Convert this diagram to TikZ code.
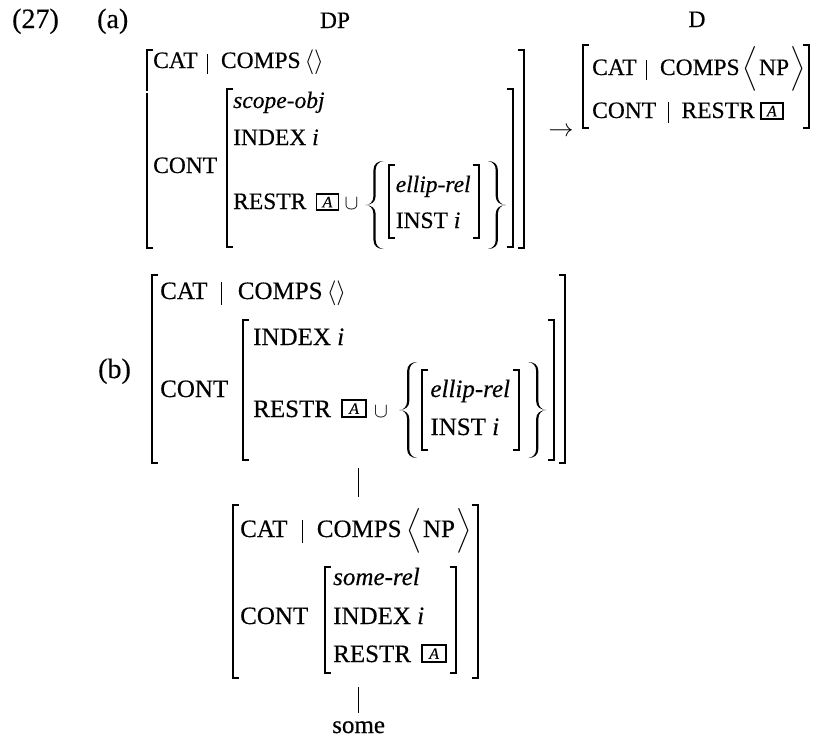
\documentclass[tikz,border=0pt]{standalone}
\usepackage{exscale}
\usepackage{fontspec}
\setmainfont{Liberation Serif}[FakeBold=0.35]
\usetikzlibrary{calc,fit}
\newcommand{\fa}{\fontsize{23.5}{28}\selectfont}
\newcommand{\fb}{\fontsize{25}{30}\selectfont}
\newcommand{\fl}{\fontsize{28}{33}\selectfont}
\newcommand{\fcup}{\fontsize{20}{22}\selectfont}
\newcommand{\lbr}[2]{\draw[brk] (#1) ++(6,0) -- (#1) -- (#2) -- ++(6,0);}
\newcommand{\rbr}[2]{\draw[brk] (#1) ++(-6,0) -- (#1) -- (#2) -- ++(-6,0);}
\newcommand{\LAng}[1]{$\left\langle\vcenter{\hbox{\rule{0pt}{#1}}}\right.$}
\newcommand{\RAng}[1]{$\left.\vcenter{\hbox{\rule{0pt}{#1}}}\right\rangle$}
\tikzset{
 pics/brc/.style={code={\fill
   (9,-#1) .. controls (3,-#1) and (-1.1,-#1+3) .. (-1.1,-#1+9)
   -- (-1.1,-9) .. controls (-1.1,-3) and (-5,0) .. (-9,0)
   .. controls (-5,0) and (-1.1,3) .. (-1.1,9)
   -- (-1.1,#1-9) .. controls (-1.1,#1-3) and (3,#1) .. (9,#1)
   .. controls (4,#1-0.6) and (1.1,#1-4) .. (1.1,#1-9)
   -- (1.1,9) .. controls (1.1,3) and (-3,0.4) .. (-9,0)
   .. controls (-3,-0.4) and (1.1,-3) .. (1.1,-9)
   -- (1.1,-#1+9) .. controls (1.1,-#1+4) and (4,-#1+0.6) .. (9,-#1) -- cycle;}}
}
\begin{document}
\begin{tikzpicture}[x=1pt,y=-1pt,
  tx/.style={inner sep=0pt,anchor=base west},
  ctr/.style={inner sep=0pt,anchor=base},
  brk/.style={line width=2pt},
  barline/.style={line width=0.8pt},
  tagbox/.style={draw,line width=1.8pt,inner sep=0pt,minimum width=22pt,minimum height=16pt,font=\fontsize{16}{17}\selectfont\itshape},
  treeline/.style={line width=0.8pt}]
\useasboundingbox (0,0) rectangle (813,740);
% labels
\node[tx,font=\fl] (n27) at (12,28) {(27)};
\node[tx,font=\fl] (na) at (97,28) {(a)};
\node[tx,font=\fl] (nb) at (98,378) {(b)};
\node[ctr,font=\fa] (dp) at (335,28) {DP};
\node[ctr,font=\fa] (dd) at (697,27) {D};
% ---------------- (a) DP
\begin{scope}[every node/.append style={font=\fa}]
\node[tx] (acat) at (153,68) {CAT};
\coordinate (abar) at ($(acat.base east)+(10,0)$);
\draw[barline] ($(abar)+(0,-14)$) -- ++(0,20);
\node[tx] (acomps) at ($(abar)+(13,0)$) {COMPS\,$\langle\rangle$};
\node[tx] (acont) at (153,173) {CONT};
\node[tx] (ascope) at (233,108) {\itshape scope-obj};
\node[tx] (aindex) at (233,145) {INDEX \textit{i}};
\node[tx] (arestr) at (233,209) {RESTR};
\node[tagbox,anchor=south west] (aA) at ($(arestr.base east)+(9,2)$) {A};
\node[tx,font=\fcup] (acup) at ($(aA.east |- arestr.base)+(5,0)$) {$\cup$};
\coordinate (alb) at ($(acup.east |- 0,205)+(16,0)$);
\pic at (alb) {brc=44};
\node[tx] (aell) at ($(alb |- 0,192)+(21,0)$) {\itshape ellip-rel};
\node[tx] (ainst) at (aell.west |- 0,228) {INST \textit{i}};
\lbr{$(alb |- 0,165)+(14,0)$}{$(alb |- 0,238)+(14,0)$}
\coordinate (arb0) at ($(aell.east |- 0,165)+(8,0)$);
\rbr{arb0}{arb0 |- 0,238}
\coordinate (arb) at ($(arb0 |- 0,205)+(18,0)$);
\pic[xscale=-1] at (arb) {brc=44};
\lbr{227,89}{227,247}
\rbr{$(arb |- 0,89)+(16,0)$}{$(arb |- 0,247)+(16,0)$}
\draw[brk] (153,50) -- (147,50) -- (147,90.5);
\draw[brk] (147,92.5) -- (147,248) -- (153,248);
\rbr{$(arb |- 0,50)+(27,0)$}{$(arb |- 0,248)+(27,0)$}
\end{scope}
\node[inner sep=0pt,font=\fa] (arr) at (561,132) {$\rightarrow$};
% ---------------- (a) D
\begin{scope}[every node/.append style={font=\fa}]
\node[tx] (dcat) at (592,75) {CAT};
\coordinate (dbar1) at ($(dcat.base east)+(10,0)$);
\draw[barline] ($(dbar1)+(0,-15)$) -- ++(0,20);
\node[tx] (dcomps) at ($(dbar1)+(13,0)$) {COMPS\hspace{3pt}\LAng{36pt}NP\RAng{36pt}};
\node[tx] (dcont) at (592,118) {CONT};
\coordinate (dbar2) at ($(dcont.base east)+(12,0)$);
\draw[barline] ($(dbar2)+(0,-16)$) -- ++(0,21);
\node[tx] (drestr) at ($(dbar2)+(13,0)$) {RESTR};
\node[tagbox,anchor=south west] (dA) at ($(drestr.base east)+(5,2)$) {A};
\lbr{583,45}{583,128}
\rbr{$(dcomps.east |- 0,45)+(3,0)$}{$(dcomps.east |- 0,128)+(3,0)$}
\end{scope}
% ---------------- (b)
\begin{scope}[every node/.append style={font=\fb}]
\node[tx] (bcat) at (160,299) {CAT};
\coordinate (bbar) at ($(bcat.base east)+(14,0)$);
\draw[barline] ($(bbar)+(0,-17)$) -- ++(0,23);
\node[tx] (bcomps) at ($(bbar)+(16,0)$) {COMPS\,$\langle\rangle$};
\node[tx] (bcont) at (160,397) {CONT};
\node[tx] (bindex) at (253,345) {INDEX \textit{i}};
\node[tx] (brestr) at (253,417) {RESTR};
\node[tagbox,anchor=south west,minimum width=24pt,minimum height=17pt] (bA) at ($(brestr.base east)+(10,1)$) {A};
\node[tx,font=\fcup] (bcup) at ($(bA.east |- brestr.base)+(7,0)$) {$\cup$};
\coordinate (blb) at ($(bcup.east |- 0,410)+(20,0)$);
\pic at (blb) {brc=48};
\node[tx] (bell) at ($(blb |- 0,397)+(22,0)$) {\itshape ellip-rel};
\node[tx] (binst) at (bell.west |- 0,435) {INST \textit{i}};
\lbr{$(blb |- 0,370)+(14,0)$}{$(blb |- 0,450)+(14,0)$}
\coordinate (brb0) at ($(bell.east |- 0,370)+(9,0)$);
\rbr{brb0}{brb0 |- 0,450}
\coordinate (brb) at ($(brb0 |- 0,410)+(18,0)$);
\pic[xscale=-1] at (brb) {brc=48};
\lbr{243,320}{243,460}
\rbr{$(brb |- 0,320)+(17,0)$}{$(brb |- 0,460)+(17,0)$}
\coordinate (bTL) at (152,275);
\coordinate (bBR) at ($(brb |- 0,463)+(28,0)$);
\lbr{bTL}{152,463}
\rbr{$(brb |- 0,275)+(28,0)$}{bBR}
\node[fit={(bTL) (bBR)},inner sep=0pt] (bavm) {};
\end{scope}
% ---------------- (c)
\begin{scope}[every node/.append style={font=\fb}]
\node[tx] (ccat) at (240,537) {CAT};
\coordinate (cbar) at ($(ccat.base east)+(15,0)$);
\draw[barline] ($(cbar)+(0,-17)$) -- ++(0,23);
\node[tx] (ccomps) at ($(cbar)+(14,0)$) {COMPS\hspace{5pt}\LAng{38pt}NP\RAng{38pt}};
\node[tx] (ccont) at (240,624) {CONT};
\node[tx] (csome) at (333,585) {\itshape some-rel};
\node[tx] (cindex) at (333,624) {INDEX \textit{i}};
\node[tx] (crestr) at (333,662) {RESTR};
\node[tagbox,anchor=south west,minimum width=24pt,minimum height=17pt] (cA) at ($(crestr.base east)+(10,1)$) {A};
\lbr{325,567}{325,673}
\rbr{$(cA.east |- 0,567)+(9,0)$}{$(cA.east |- 0,673)+(9,0)$}
\coordinate (cTL) at (233,505);
\coordinate (cBR) at ($(ccomps.east |- 0,678)+(6,0)$);
\lbr{cTL}{233,678}
\rbr{$(ccomps.east |- 0,505)+(6,0)$}{cBR}
\node[fit={(cTL) (cBR)},inner sep=0pt] (cavm) {};
\node[ctr] (some) at (bavm.south |- 0,733) {some};
\end{scope}
\draw[treeline,shorten <=5pt,shorten >=8pt] (bavm.south) -- (bavm.south |- cavm.north);
\draw[treeline,shorten <=9pt,shorten >=8pt] (bavm.south |- cavm.south) -- (some.north);
\end{tikzpicture}
\end{document}
